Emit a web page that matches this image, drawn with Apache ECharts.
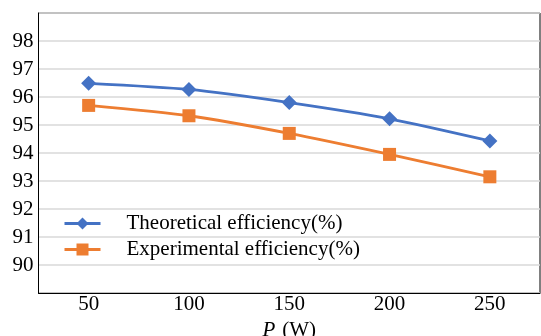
<!DOCTYPE html>
<html><head><meta charset="utf-8">
<script src="https://cdn.jsdelivr.net/npm/echarts@6/dist/echarts.min.js"></script>
<style>html,body{margin:0;padding:0;background:#fff}#c{width:541px;height:336px}</style>
</head><body><div id="c"></div>
<script>
var categories = ['50', '100', '150', '200', '250'];
var theoretical = [96.49, 96.27, 95.80, 95.22, 94.43];
var experimental = [95.70, 95.33, 94.70, 93.95, 93.15];
var seriesNames = ['Theoretical efficiency(%)', 'Experimental efficiency(%)'];

var chart = echarts.init(document.getElementById('c'));
var font = '"Liberation Serif", "Times New Roman", serif';
chart.setOption({
  animation: false,
  grid: {left: 38.5, right: 1, top: 13, bottom: 43, outerBoundsMode: 'none', containLabel: false,
    show: true, borderColor: '#000', borderWidth: 1, backgroundColor: 'transparent'},
  legend: {
    orient: 'vertical', left: 58, top: 208, itemWidth: 36, itemHeight: 15, itemGap: 5,
    lineStyle: {width: 3},
    textStyle: {fontFamily: font, fontSize: 21, color: '#000', padding: [0, 0, 0, 21]},
    data: seriesNames
  },
  xAxis: {
    type: 'category', data: categories, boundaryGap: true,
    axisLine: {lineStyle: {color: '#000', width: 1}},
    axisTick: {alignWithLabel: true, inside: true, length: 7, lineStyle: {color: '#000'}},
    axisLabel: {fontFamily: font, fontSize: 21, color: '#000', margin: 1},
    name: '{i|P}{s|o}{n|(W)}', nameLocation: 'middle', nameGap: 18,
    nameTextStyle: {rich: {
      i: {fontFamily: font, fontSize: 21, fontStyle: 'italic', color: '#000'},
      s: {fontFamily: font, fontSize: 14, color: '#000', verticalAlign: 'bottom', padding: [0, 0, -7, 0]},
      n: {fontFamily: font, fontSize: 21, color: '#000'}
    }}
  },
  yAxis: {
    type: 'value', min: 89, max: 99, interval: 1,
    axisLine: {show: true, lineStyle: {color: '#000', width: 1}},
    axisTick: {show: false},
    splitLine: {lineStyle: {color: '#d9d9d9', width: 1.5}},
    axisLabel: {fontFamily: font, fontSize: 21, color: '#000', margin: 5,
      formatter: function (v) { return (v === 89 || v === 99) ? '' : v; }}
  },
  series: [
    {name: seriesNames[0], type: 'line', data: theoretical, smooth: 0.25,
      symbol: 'diamond', symbolSize: 15, color: '#4472C4',
      lineStyle: {width: 2.8, color: '#4472C4'}, itemStyle: {color: '#4472C4'}},
    {name: seriesNames[1], type: 'line', data: experimental, smooth: 0.25,
      symbol: 'rect', symbolSize: 13, color: '#ED7D31',
      lineStyle: {width: 2.8, color: '#ED7D31'}, itemStyle: {color: '#ED7D31'}}
  ]
});
</script></body></html>
